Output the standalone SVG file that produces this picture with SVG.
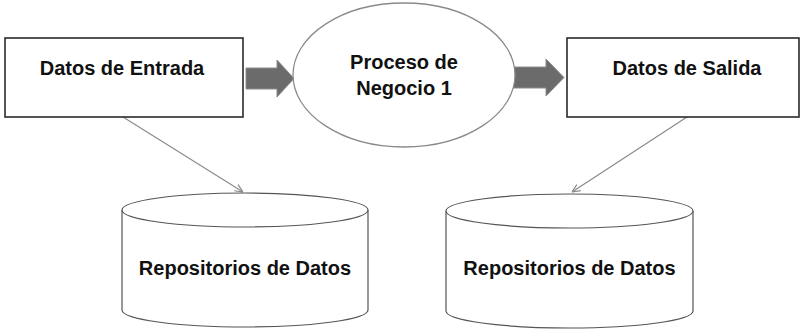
<svg xmlns="http://www.w3.org/2000/svg" width="802" height="329" viewBox="0 0 802 329">
<defs>
<style>
.box{fill:#fff;stroke:#2a2a2a;stroke-width:1.6}
.ell{fill:#fff;stroke:#8a8a8a;stroke-width:1.3}
.cyl{fill:#fff;stroke:#555;stroke-width:1.2}
.t{font-family:"Liberation Sans",Arial,sans-serif;font-weight:bold;font-size:20px;fill:#111;text-anchor:middle}
.big{fill:#6b6b6b;stroke:#8c8c8c;stroke-width:1}
.ln{stroke:#888;stroke-width:1.1;fill:none}
</style>
<marker id="ah" viewBox="0 0 10 10" refX="10" refY="5" markerWidth="9" markerHeight="9" markerUnits="userSpaceOnUse" orient="auto">
<path d="M1,1 L10,5 L1,9" fill="none" stroke="#888" stroke-width="1.3"/>
</marker>
</defs>
<g id="connectors">
<polygon class="big" points="246,68 277,68 277,60 294,78.5 277,97 277,89 246,89"/>
<polygon class="big" points="512,67 546,67 546,59 564,77.5 546,96 546,88 512,88"/>
<line class="ln" x1="123" y1="117" x2="243" y2="192" marker-end="url(#ah)"/>
<line class="ln" x1="687" y1="117" x2="572" y2="192" marker-end="url(#ah)"/>
</g>
<g id="entrada">
<rect class="box" x="5" y="38" width="238" height="79"/>
<text class="t" x="122" y="75">Datos de Entrada</text>
</g>
<g id="proceso">
<ellipse class="ell" cx="404" cy="75" rx="111" ry="72"/>
<text class="t" x="404" y="69">Proceso de</text>
<text class="t" x="404" y="95">Negocio 1</text>
</g>
<g id="salida">
<rect class="box" x="567" y="38" width="232" height="79"/>
<text class="t" x="687" y="75">Datos de Salida</text>
</g>
<g id="repo1">
<path class="cyl" d="M122,210 L122,310 A123,17 0 0 0 368,310 L368,210"/>
<ellipse class="cyl" cx="245" cy="210" rx="123" ry="17"/>
<text class="t" x="245" y="275">Repositorios de Datos</text>
</g>
<g id="repo2">
<path class="cyl" d="M446,211 L446,311 A123.5,17 0 0 0 693,311 L693,211"/>
<ellipse class="cyl" cx="569.5" cy="211" rx="123.5" ry="17"/>
<text class="t" x="569.5" y="275">Repositorios de Datos</text>
</g>
</svg>
